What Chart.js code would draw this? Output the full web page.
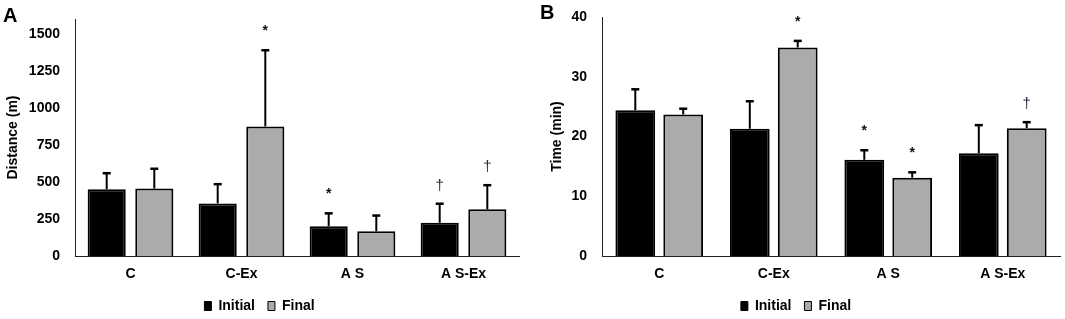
<!DOCTYPE html>
<html>
<head>
<meta charset="utf-8">
<script src="https://cdn.jsdelivr.net/npm/chart.js@4.4.1/dist/chart.umd.min.js"></script>
<style>
  html, body { margin: 0; padding: 0; background: #fff; }
  #wrap { position: relative; width: 1065px; height: 319px; overflow: hidden; }
  #boxA { position: absolute; left: 0; top: 0; width: 532px; height: 319px; }
  #boxB { position: absolute; left: 532px; top: 0; width: 533px; height: 319px; }
</style>
</head>
<body>
<div id="wrap">
  <div id="boxA"><canvas id="chartA" width="532" height="319"></canvas></div>
  <div id="boxB"><canvas id="chartB" width="533" height="319"></canvas></div>
</div>
<script>
// ---- data ----
const categories = ['C', 'C-Ex', 'A S', 'A S-Ex'];
const seriesNames = ['Initial', 'Final'];

const distanceInitial = [451, 355, 201, 224];
const distanceFinal = [455, 875, 167, 315];
const distanceInitialSD = [108, 130, 87, 129];
const distanceFinalSD = [134, 514, 106, 163];
const distanceInitialMarks = ['', '', '*', '\u2020'];
const distanceFinalMarks = ['', '*', '', '\u2020'];
const distanceTicks = [0, 250, 500, 750, 1000, 1250, 1500];

const timeInitial = [24.4, 21.3, 16.1, 17.2];
const timeFinal = [23.7, 34.9, 13.1, 21.4];
const timeInitialSD = [3.5, 4.6, 1.6, 4.7];
const timeFinalSD = [0.95, 1.1, 0.9, 1.0];
const timeInitialMarks = ['', '', '*', ''];
const timeFinalMarks = ['', '*', '*', '\u2020'];
const timeTicks = [0, 10, 20, 30, 40];

// ---- styles ----
const FONT = '"Liberation Sans", Arial, sans-serif';
const GREY = '#adaaaa';

const errorBarPlugin = {
  id: 'errorBars',
  afterDatasetsDraw(chart) {
    const ctx = chart.ctx;
    const yScale = chart.scales.y;
    chart.data.datasets.forEach((ds, i) => {
      const meta = chart.getDatasetMeta(i);
      meta.data.forEach((el, j) => {
        const v = ds.data[j];
        const sd = ds.errors ? ds.errors[j] : 0;
        const yTop = yScale.getPixelForValue(v + sd);
        ctx.save();
        ctx.strokeStyle = '#000';
        ctx.lineWidth = 2;
        ctx.beginPath();
        ctx.moveTo(el.x, el.y);
        ctx.lineTo(el.x, yTop);
        ctx.stroke();
        ctx.lineWidth = 2.5;
        ctx.beginPath();
        ctx.moveTo(el.x - 4, yTop);
        ctx.lineTo(el.x + 4, yTop);
        ctx.stroke();
        const m = ds.marks ? ds.marks[j] : '';
        if (m) {
          ctx.fillStyle = m === '*' ? '#111' : '#2a2a3a';
          ctx.textAlign = 'center';
          ctx.textBaseline = 'middle';
          if (m === '*') {
            ctx.font = 'bold 14px ' + FONT;
            ctx.fillText(m, el.x, yTop - 19);
          } else {
            ctx.font = '15px ' + FONT;
            ctx.fillText(m, el.x, yTop - 18);
          }
        }
        ctx.restore();
      });
    });
  }
};

function panelLetterPlugin(letter, x, y) {
  return {
    id: 'panelLetter' + letter,
    afterDraw(chart) {
      const ctx = chart.ctx;
      ctx.save();
      ctx.fillStyle = '#000';
      ctx.font = 'bold 20px ' + FONT;
      ctx.textAlign = 'left';
      ctx.textBaseline = 'alphabetic';
      ctx.fillText(letter, x, y);
      ctx.restore();
    }
  };
}

function makeChart(id, opts) {
  const datasets = [
    {
      label: seriesNames[0], data: opts.initial, errors: opts.initialSD, marks: opts.initialMarks,
      backgroundColor: '#000', borderColor: '#000', borderWidth: 2,
      barPercentage: opts.bp, categoryPercentage: opts.cp
    },
    {
      label: seriesNames[1], data: opts.final, errors: opts.finalSD, marks: opts.finalMarks,
      backgroundColor: GREY, borderColor: '#000', borderWidth: 2,
      barPercentage: opts.bp, categoryPercentage: opts.cp
    }
  ];
  return new Chart(document.getElementById(id), {
    type: 'bar',
    data: { labels: categories, datasets },
    options: {
      responsive: false,
      animation: false,
      events: [],
      layout: { padding: { top: opts.padTop, right: opts.padRight, left: 0, bottom: -4 } },
      plugins: {
        tooltip: { enabled: false },
        legend: {
          position: 'bottom',
          labels: {
            color: '#000',
            font: { family: FONT, size: 14, weight: 'bold' },
            boxWidth: 7, boxHeight: 9, padding: 13,
            generateLabels(chart) {
              const items = Chart.defaults.plugins.legend.labels.generateLabels(chart);
              items.forEach(it => { it.lineWidth = 1; });
              return items;
            }
          }
        }
      },
      scales: {
        x: {
          grid: { display: false, drawTicks: false },
          border: { display: true, color: '#222', width: 1 },
          ticks: { color: '#000', font: { family: FONT, size: 14, weight: 'bold' }, padding: 10 },
          afterFit(scale) { scale.height = opts.xHeight; scale.paddingLeft = 0; scale.paddingRight = 0; }
        },
        y: {
          min: 0, max: opts.max,
          grid: { display: false, drawTicks: false },
          border: { display: true, color: '#222', width: 1 },
          ticks: {
            color: '#000', font: { family: FONT, size: 14, weight: 'bold' }, padding: opts.tickPad,
            callback: (v) => String(v)
          },
          afterBuildTicks(scale) { scale.ticks = opts.ticks.map(v => ({ value: v })); },
          title: {
            display: true, text: opts.title, color: '#000',
            font: { family: FONT, size: 14, weight: 'bold' },
            padding: { top: opts.titlePad, bottom: 0 }
          },
          afterFit(scale) { scale.width = opts.yWidth; scale.paddingTop = 0; scale.paddingBottom = 0; }
        }
      }
    },
    plugins: [errorBarPlugin, panelLetterPlugin(opts.letter, opts.lx, opts.ly)]
  });
}

makeChart('chartA', {
  initial: distanceInitial, final: distanceFinal,
  initialSD: distanceInitialSD, finalSD: distanceFinalSD,
  initialMarks: distanceInitialMarks, finalMarks: distanceFinalMarks,
  ticks: distanceTicks, max: 1600, title: 'Distance (m)',
  bp: 0.8, cp: 0.858, padTop: 19, padRight: 13, xHeight: 30,
  yWidth: 75, tickPad: 15, titlePad: 5, letter: 'A', lx: 3, ly: 22
});

makeChart('chartB', {
  initial: timeInitial, final: timeFinal,
  initialSD: timeInitialSD, finalSD: timeFinalSD,
  initialMarks: timeInitialMarks, finalMarks: timeFinalMarks,
  ticks: timeTicks, max: 40, title: 'Time (min)',
  bp: 0.83, cp: 0.837, padTop: 17, padRight: 5, xHeight: 30,
  yWidth: 70, tickPad: 15, titlePad: 17, letter: 'B', lx: 8, ly: 19
});
</script>
</body>
</html>
